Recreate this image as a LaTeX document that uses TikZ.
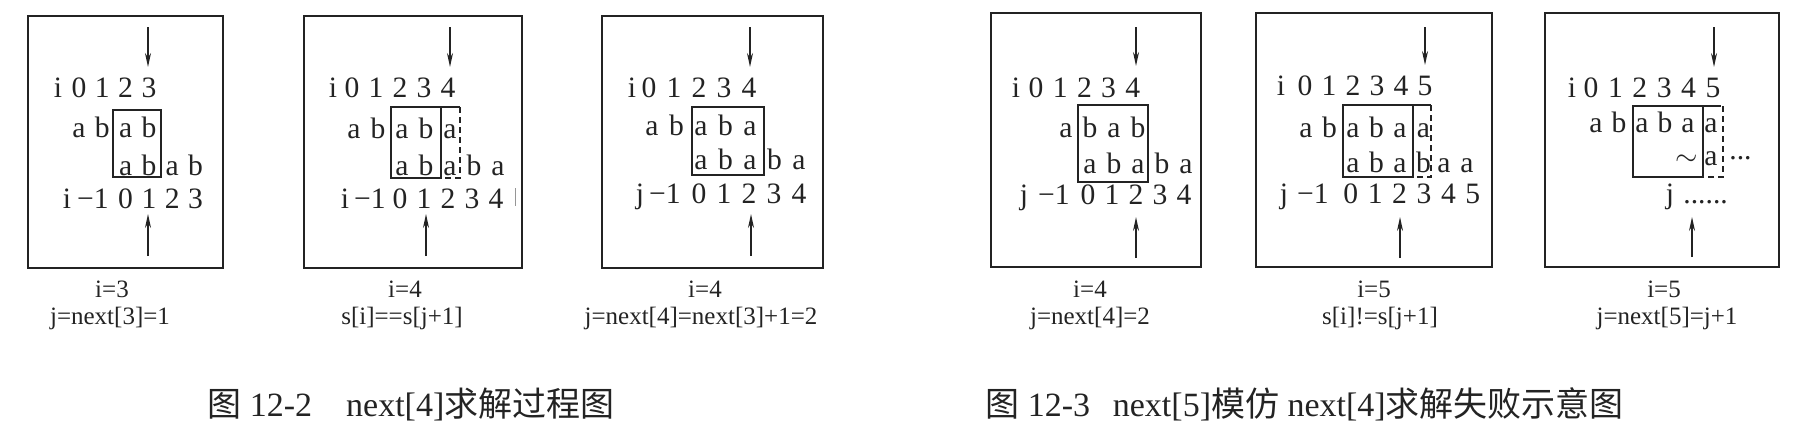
\documentclass[tikz,border=0pt]{standalone}
\usepackage{fontspec}
\setmainfont{Liberation Serif}
\newfontfamily\cjk{Noto Sans CJK SC}
\usetikzlibrary{arrows.meta}
\definecolor{ink}{RGB}{35,35,35}
\definecolor{faint}{RGB}{150,150,150}
% name, c0, d, baseline y, start col, list
\newcommand\chrow[6]{%
  \foreach \ch [count=\k from 0] in {#6}{%
    \node[txt] (#1-\k) at ({#2+(#5+\k)*#3},#4) {\ch};}}
\begin{document}
\begin{tikzpicture}[x=0.5pt,y=-0.5pt,
  txt/.style={font=\fontsize{14.8}{16}\selectfont, text=ink, inner sep=0pt, anchor=base},
  neg/.style={txt, anchor=base east},
  caplbl/.style={font=\fontsize{12.5}{14}\selectfont, text=ink, inner sep=0pt, anchor=base},
  figcap/.style={font=\fontsize{17}{19}\selectfont, text=ink, inner sep=0pt, anchor=base west},
  panelframe/.style={draw=ink, line width=1.4pt},
  win/.style={draw=ink, line width=0.6pt},
  dashedge/.style={draw=ink, line width=0.6pt, dash pattern=on 3pt off 2pt},
  ptr/.style={draw=ink, line width=0.8pt, -{Stealth[length=7pt,width=3pt]}}]
\useasboundingbox (0,0) rectangle (1802,445);

% ---------------- Panel 1 ----------------
\draw[panelframe] (28,16) rectangle (223,268);
\node[txt] (p1i) at (58,97) {i};
\chrow{p1d}{79}{23.3}{97}{0}{0,1,2,3}
\chrow{p1a}{79}{23.3}{137}{0}{a,b,a,b}
\chrow{p1b}{79}{23.3}{175}{2}{a,b,a,b}
\node[txt] (p1j) at (67,208) {i};
\node[neg] (p1m) at (109,208) {−1};
\chrow{p1c}{79}{23.3}{208}{2}{0,1,2,3}
\draw[win] (113,110) rectangle (161,177);
\coordinate (p1t) at (148,27); \coordinate (p1tt) at (148,67);
\coordinate (p1b0) at (148,256); \coordinate (p1bt) at (148,214);
\draw[ptr] (p1t) -- (p1tt);
\draw[ptr] (p1b0) -- (p1bt);
\node[caplbl] (p1c1) at (112,297) {i=3};
\node[caplbl] (p1c2) at (110,324) {j=next[3]=1};

% ---------------- Panel 2 ----------------
\draw[panelframe] (304,16) rectangle (522,268);
\node[txt] (p2i) at (333,97) {i};
\chrow{p2d}{352}{24}{97}{0}{0,1,2,3,4}
\chrow{p2a}{354}{24}{138}{0}{a,b,a,b,a}
\chrow{p2b}{354}{24}{175}{2}{a,b,a,b,a}
\node[txt] (p2j) at (345,208) {i};
\node[neg] (p2m) at (386,208) {−1};
\chrow{p2c}{352}{24}{208}{2}{0,1,2,3,4}
\draw[faint, line width=0.4pt] (515,188) -- (515,206);
\draw[win] (391,107) rectangle (441,178);
\draw[win] (441,107) -- (460,107);
\draw[dashedge] (460,107) -- (460,178) -- (441,178);
\coordinate (p2t) at (450,27); \coordinate (p2tt) at (450,67);
\coordinate (p2b0) at (426,256); \coordinate (p2bt) at (426,214);
\draw[ptr] (p2t) -- (p2tt);
\draw[ptr] (p2b0) -- (p2bt);
\node[caplbl] (p2c1) at (405,297) {i=4};
\node[caplbl] (p2c2) at (402,324) {s[i]==s[j+1]};

% ---------------- Panel 3 ----------------
\draw[panelframe] (602,16) rectangle (823,268);
\node[txt] (p3i) at (632,97) {i};
\chrow{p3d}{649}{25}{97}{0}{0,1,2,3,4}
\chrow{p3a}{652}{24.5}{135}{0}{a,b,a,b,a}
\chrow{p3b}{652}{24.5}{169}{2}{a,b,a,b,a}
\node[txt] (p3j) at (640,203) {j};
\node[neg] (p3m) at (681,203) {−1};
\chrow{p3c}{649}{25}{203}{2}{0,1,2,3,4}
\draw[win] (692,107) rectangle (764,175);
\coordinate (p3t) at (750,27); \coordinate (p3tt) at (750,67);
\coordinate (p3b0) at (751,256); \coordinate (p3bt) at (751,214);
\draw[ptr] (p3t) -- (p3tt);
\draw[ptr] (p3b0) -- (p3bt);
\node[caplbl] (p3c1) at (705,297) {i=4};
\node[caplbl] (p3c2) at (701,324) {j=next[4]=next[3]+1=2};

% ---------------- Panel 4 ----------------
\draw[panelframe] (991,13) rectangle (1201,267);
\node[txt] (p4i) at (1016,97) {i};
\chrow{p4d}{1036}{24.2}{97}{0}{0,1,2,3,4}
\chrow{p4a}{1042}{24}{137}{1}{a,b,a,b}
\chrow{p4b}{1042}{24}{173}{2}{a,b,a,b,a}
\node[txt] (p4j) at (1024,204) {j};
\node[neg] (p4m) at (1070,204) {−1};
\chrow{p4c}{1040}{24}{204}{2}{0,1,2,3,4}
\draw[win] (1078,105) rectangle (1148,182);
\coordinate (p4t) at (1136,27); \coordinate (p4tt) at (1136,66);
\coordinate (p4b0) at (1136,258); \coordinate (p4bt) at (1136,217);
\draw[ptr] (p4t) -- (p4tt);
\draw[ptr] (p4b0) -- (p4bt);
\node[caplbl] (p4c1) at (1090,297) {i=4};
\node[caplbl] (p4c2) at (1090,324) {j=next[4]=2};

% ---------------- Panel 5 ----------------
\draw[panelframe] (1256,13) rectangle (1492,267);
\node[txt] (p5i) at (1281,95) {i};
\chrow{p5d}{1305}{24}{95}{0}{0,1,2,3,4,5}
\chrow{p5a}{1306}{23.5}{137}{0}{a,b,a,b,a,a}
\chrow{p5b}{1306}{23.5}{172}{2}{a,b,a,b}
\node[txt] (p5b4) at (1444,172) {a};
\node[txt] (p5b5) at (1467,172) {a};
\node[txt] (p5j) at (1284,203) {j};
\node[neg] (p5m) at (1329,203) {−1};
\chrow{p5c}{1302}{24.4}{203}{2}{0,1,2,3,4,5}
\draw[win] (1343,105) rectangle (1413,177);
\draw[win] (1413,105) -- (1431,105);
\draw[dashedge] (1431,105) -- (1431,177) -- (1413,177);
\coordinate (p5t) at (1425,27); \coordinate (p5tt) at (1425,65);
\coordinate (p5b0) at (1400,258); \coordinate (p5bt) at (1400,217);
\draw[ptr] (p5t) -- (p5tt);
\draw[ptr] (p5b0) -- (p5bt);
\node[caplbl] (p5c1) at (1374,297) {i=5};
\node[caplbl] (p5c2) at (1380,324) {s[i]!=s[j+1]};

% ---------------- Panel 6 ----------------
\draw[panelframe] (1545,13) rectangle (1779,267);
\node[txt] (p6i) at (1572,97) {i};
\chrow{p6d}{1591}{24.4}{97}{0}{0,1,2,3,4,5}
\chrow{p6a}{1596}{23}{132}{0}{a,b,a,b,a,a}
\node[txt] (p6tl) at (1687,165) {$\sim$};
\node[txt] (p6b) at (1711,165) {a};
\node[txt, anchor=base west] (p6dots) at (1729,165) {\raisebox{0.2em}{...}};
\node[txt] (p6j) at (1670,203) {j};
\node[txt, anchor=base west] (p6jd) at (1683,203) {......};
\draw[win] (1633,106) rectangle (1703,177);
\draw[win] (1703,106) -- (1721,106);
\draw[dashedge] (1723,106) -- (1723,177) -- (1703,177);
\coordinate (p6t) at (1714,27); \coordinate (p6tt) at (1714,67);
\coordinate (p6b0) at (1692,257); \coordinate (p6bt) at (1692,217);
\draw[ptr] (p6t) -- (p6tt);
\draw[ptr] (p6b0) -- (p6bt);
\node[caplbl] (p6c1) at (1664,297) {i=5};
\node[caplbl] (p6c2) at (1667,324) {j=next[5]=j+1};

% ---------------- Figure captions ----------------
\node[figcap] (f1) at (207,416) {{\cjk 图} 12-2\quad next[4]{\cjk 求解过程图}};
\node[figcap] (f2) at (985,416) {{\cjk 图} 12-3\enspace\thinspace next[5]{\cjk 模仿} next[4]{\cjk 求解失败示意图}};
\end{tikzpicture}
\end{document}
